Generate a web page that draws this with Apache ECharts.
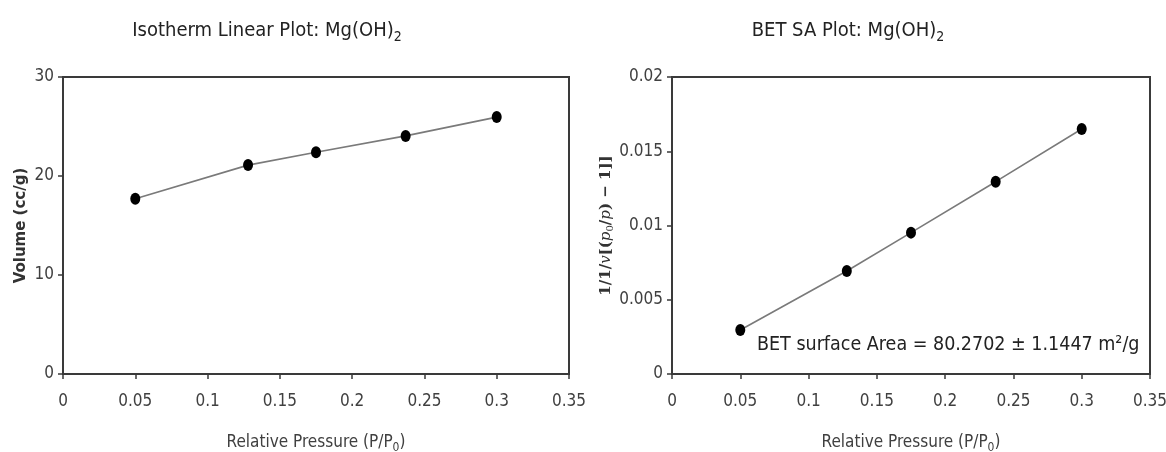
<!DOCTYPE html>
<html>
<head>
<meta charset="utf-8">
<script src="https://cdn.jsdelivr.net/npm/echarts@6/dist/echarts.min.js"></script>
<style>
html,body{margin:0;padding:0;background:#fff;overflow:hidden;}
#chart{width:1166px;height:452px;}
</style>
</head>
<body>
<div id="chart"></div>
<script>
// Data
var pressure = [0.05, 0.128, 0.175, 0.237, 0.30];
var volume = [17.7, 21.1, 22.4, 24.05, 25.95];
var betValues = [0.00296, 0.00694, 0.00952, 0.01295, 0.0165];
var xTicks = [0, 0.05, 0.1, 0.15, 0.2, 0.25, 0.3, 0.35];
var volumeTicks = [0, 10, 20, 30];
var betTicks = [0, 0.005, 0.01, 0.015, 0.02];
var leftTitle = 'Isotherm Linear Plot: Mg(OH)';
var rightTitle = 'BET SA Plot: Mg(OH)';
var xName = 'Relative Pressure (P/P';
var annotation = 'BET surface Area = 80.2702 ± 1.1447 m²/g';

var NARROW = 'Liberation Sans Narrow, DejaVu Sans Condensed, sans-serif';
var axisColor = '#3a3a3a';
var labelColor = '#404040';

function pairs(xs, ys) { return xs.map(function (x, i) { return [x, ys[i]]; }); }

function xAxis(gi) {
  return {
    gridIndex: gi, type: 'value',
    min: xTicks[0], max: xTicks[xTicks.length - 1], interval: xTicks[1] - xTicks[0],
    splitLine: { show: false },
    axisLine: { show: true, onZero: false, lineStyle: { color: axisColor, width: 2 } },
    axisTick: { show: true, inside: false, length: 5, lineStyle: { color: axisColor, width: 1.5 } },
    axisLabel: { color: labelColor, fontFamily: NARROW, fontSize: 17, margin: 19 },
    name: '{t|' + xName + '}{s|0}{t|)}',
    nameLocation: 'middle', nameGap: 58,
    nameTextStyle: {
      rich: {
        t: { fontFamily: NARROW, fontSize: 17, color: labelColor },
        s: { fontFamily: NARROW, fontSize: 12, color: labelColor, padding: [10, 0, 0, 0] }
      }
    }
  };
}

function yAxis(gi, ticks, name, gap) {
  return {
    gridIndex: gi, type: 'value',
    min: ticks[0], max: ticks[ticks.length - 1], interval: ticks[1] - ticks[0],
    splitLine: { show: false },
    axisLine: { show: true, lineStyle: { color: axisColor, width: 2 } },
    axisTick: { show: true, inside: false, length: 5, lineStyle: { color: axisColor, width: 1.5 } },
    axisLabel: { color: labelColor, fontFamily: NARROW, fontSize: 17, margin: 9 },
    name: name, nameLocation: 'middle', nameGap: gap, nameRotate: 90
  };
}

var el = document.getElementById('chart');
var chart = echarts.init(el, null, { renderer: 'canvas', width: 1166, height: 452 });

var yLeft = yAxis(0, volumeTicks, 'Volume (cc/g)', 34);
yLeft.nameTextStyle = { fontFamily: 'DejaVu Sans', fontWeight: 'bold', fontSize: 15, color: '#333' };

var yRight = yAxis(1, betTicks, '{n|1/1/}{i|v}{n|[(}{i|p}{s|0}{n|/}{i|p}{n|) − 1]]}', 45);
yRight.nameTextStyle = {
  rich: {
    n: { fontFamily: 'DejaVu Serif', fontSize: 15, color: '#333', fontWeight: 'bold' },
    i: { fontFamily: 'DejaVu Serif', fontStyle: 'italic', fontSize: 15, color: '#333' },
    s: { fontFamily: 'DejaVu Serif', fontSize: 10, color: '#333', padding: [8, 0, 0, 0] }
  }
};

function titleRich() {
  return {
    t: { fontFamily: NARROW, fontSize: 20, fontWeight: 'normal', color: '#222' },
    s: { fontFamily: NARROW, fontSize: 14, fontWeight: 'normal', color: '#222', padding: [12, 0, 0, 0] }
  };
}

var option = {
  backgroundColor: '#fff',
  animation: false,
  title: [
    { text: '{t|' + leftTitle + '}{s|2}', left: 262, top: 13, textAlign: 'center',
      textStyle: { fontWeight: 'normal', rich: titleRich() } },
    { text: '{t|' + rightTitle + '}{s|2}', left: 843, top: 13, textAlign: 'center',
      textStyle: { fontWeight: 'normal', rich: titleRich() } },
    { text: annotation, left: 752, top: 330,
      textStyle: { fontFamily: NARROW, fontSize: 19.5, fontWeight: 'normal', color: '#222' } }
  ],
  grid: [
    { left: 63, right: 597, top: 77, bottom: 78, outerBoundsMode: 'none', containLabel: false,
      show: true, borderColor: axisColor, borderWidth: 2, backgroundColor: 'transparent' },
    { left: 672, right: 16, top: 77, bottom: 78, outerBoundsMode: 'none', containLabel: false,
      show: true, borderColor: axisColor, borderWidth: 2, backgroundColor: 'transparent' }
  ],
  xAxis: [xAxis(0), xAxis(1)],
  yAxis: [yLeft, yRight],
  series: [
    { type: 'line', xAxisIndex: 0, yAxisIndex: 0, data: pairs(pressure, volume),
      symbol: 'circle', symbolSize: [10, 12], showSymbol: true,
      itemStyle: { color: '#000' }, lineStyle: { color: '#7a7a7a', width: 1.6 } },
    { type: 'line', xAxisIndex: 1, yAxisIndex: 1, data: pairs(pressure, betValues),
      symbol: 'circle', symbolSize: [10, 12], showSymbol: true,
      itemStyle: { color: '#000' }, lineStyle: { color: '#7a7a7a', width: 1.6 } }
  ]
};
chart.setOption(option);
</script>
</body>
</html>
